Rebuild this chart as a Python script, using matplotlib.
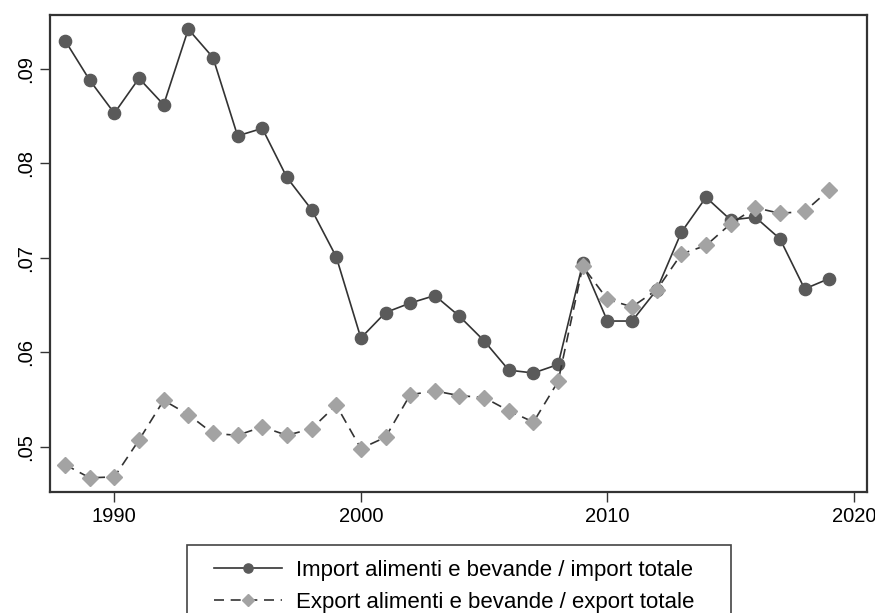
import matplotlib.pyplot as plt
from matplotlib.patches import Rectangle
import numpy as np

plt.rcParams['font.family'] = ['Liberation Sans', 'DejaVu Sans']

years = np.arange(1988, 2020)
imp_share = [0.0930, 0.0888, 0.0853, 0.0890, 0.0862, 0.0942, 0.0912, 0.0829,
             0.0837, 0.0785, 0.0751, 0.0701, 0.0615, 0.0642, 0.0652, 0.0660,
             0.0638, 0.0612, 0.0581, 0.0578, 0.0587, 0.0694, 0.0633, 0.0633,
             0.0666, 0.0727, 0.0764, 0.0740, 0.0743, 0.0720, 0.0667, 0.0678]
exp_share = [0.0481, 0.0467, 0.0468, 0.0507, 0.0549, 0.0534, 0.0514, 0.0512,
             0.0521, 0.0512, 0.0519, 0.0544, 0.0498, 0.0510, 0.0555, 0.0559,
             0.0554, 0.0552, 0.0538, 0.0526, 0.0569, 0.0691, 0.0656, 0.0648,
             0.0666, 0.0704, 0.0713, 0.0736, 0.0753, 0.0747, 0.0749, 0.0772]
labels = ['Import alimenti e bevande / import totale',
          'Export alimenti e bevande / export totale']
xticks = [1990, 2000, 2010, 2020]
yticks = [0.05, 0.06, 0.07, 0.08, 0.09]
ytick_labels = ['.05', '.06', '.07', '.08', '.09']

W, H = 875, 613
fig = plt.figure(figsize=(W / 100, H / 100), dpi=100)
ax = fig.add_axes([50 / W, 1 - 492 / H, 817 / W, 477 / H])

ax.plot(years, imp_share, color='#333333', lw=1.2, marker='o', ms=8.8,
        mfc='#5a5a5a', mec='#5a5a5a', label=labels[0])
ax.plot(years, exp_share, color='#333333', lw=1.2, ls=(0, (6, 4)), marker='D', ms=8.5,
        mfc='#a3a3a3', mec='#a3a3a3', label=labels[1])

ax.set_xlim(1987.39, 2020.53)
ax.set_ylim(0.0452, 0.0957)
ax.set_xticks(xticks)
ax.set_yticks(yticks)
ax.set_yticklabels(ytick_labels, rotation=90, va='center')
ax.tick_params(direction='out', length=7, width=1, color='#333333', labelsize=14.5,
               pad=4)
for s in ax.spines.values():
    s.set_color('#333333')
    s.set_linewidth(1.6)

# legend box runs off the bottom edge of the figure
fig.patches.append(Rectangle((187 / W, -0.05), 544 / W, 1 - 545 / H + 0.05,
                             transform=fig.transFigure, fill=False,
                             edgecolor='#444444', lw=1.2))
fig.legend(loc='upper left', bbox_to_anchor=(214 / W, 1 - 560 / H), ncol=1,
           frameon=False, fontsize=16, handlelength=3.05, borderpad=0,
           labelspacing=0.5, handletextpad=0.63, borderaxespad=0,
           markerscale=0.75)

fig.savefig('out.png', dpi=100, facecolor='white')
